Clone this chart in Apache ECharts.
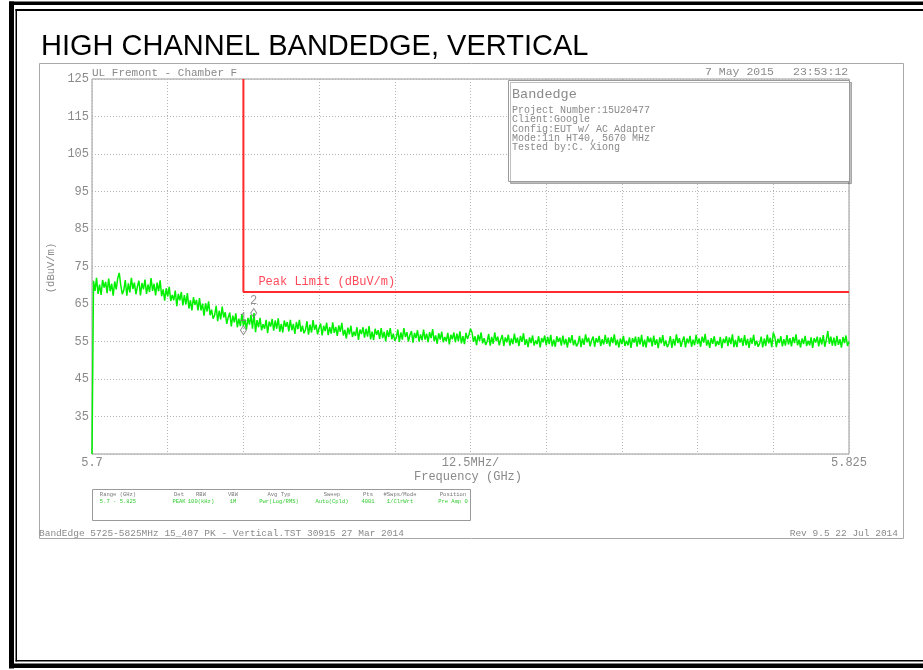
<!DOCTYPE html>
<html>
<head>
<meta charset="utf-8">
<title>HIGH CHANNEL BANDEDGE, VERTICAL</title>
<script src="https://cdn.jsdelivr.net/npm/echarts@6/dist/echarts.min.js"></script>
<style>
html, body { margin: 0; padding: 0; background: #fff; }
#chart { width: 923px; height: 670px; }
</style>
</head>
<body>
<div id="chart"></div>
<script>
// sweep: 5.7 - 5.825 GHz, one trace sample every 0.25 MHz
var F_START = 5.7;
var F_STOP = 5.825;
var F_STEP = 0.00025;
var LEVEL_MIN = 25;
var LEVEL_MAX = 125;

// trace level (dBuV/m)
var TRACE = [
	25.0,
	71.2, 68.5, 72.0, 67.7, 70.2, 67.4, 71.4, 69.4, 70.9, 67.9, 71.8, 68.4, 70.4, 67.2, 71.0, 68.9, 71.9, 73.3, 70.0, 67.6,
	68.7, 71.4, 67.2, 70.5, 68.1, 72.0, 69.0, 70.7, 67.6, 69.7, 71.2, 67.3, 70.6, 68.9, 71.5, 67.7, 70.2, 68.2, 71.9, 68.5,
	70.4, 67.3, 70.7, 68.4, 71.3, 67.1, 68.9, 65.9, 69.2, 67.0, 69.6, 65.8, 67.4, 66.0, 68.6, 64.4, 67.7, 66.0, 68.2, 64.6,
	67.4, 64.9, 67.9, 63.8, 66.0, 63.3, 66.8, 64.8, 66.1, 63.3, 66.6, 63.3, 65.1, 61.9, 65.2, 63.0, 65.7, 62.0, 63.5, 61.1,
	62.0, 64.5, 60.4, 63.2, 60.9, 64.3, 61.4, 62.8, 59.7, 61.5, 62.7, 59.0, 61.9, 60.1, 62.5, 58.8, 61.1, 59.1, 62.3, 59.1,
	60.9, 58.2, 61.3, 59.5, 62.1, 58.4, 62.6, 57.5, 60.7, 58.8, 61.3, 58.0, 59.6, 58.4, 60.8, 57.2, 60.3, 59.0, 61.0, 57.9,
	60.6, 58.4, 61.2, 57.6, 59.7, 57.4, 60.6, 58.9, 60.2, 57.7, 60.8, 58.0, 59.7, 57.0, 60.2, 58.3, 60.8, 57.6, 59.2, 57.2,
	58.1, 60.4, 56.8, 59.5, 57.4, 60.7, 58.1, 59.5, 56.9, 58.6, 59.8, 56.6, 59.2, 57.8, 60.0, 56.7, 58.8, 57.1, 60.1, 57.3,
	58.9, 56.5, 59.3, 57.6, 60.0, 56.6, 58.1, 55.8, 58.7, 56.9, 59.2, 56.2, 57.6, 56.5, 58.8, 55.4, 58.2, 57.0, 58.8, 56.0,
	58.4, 56.3, 59.1, 55.6, 57.6, 55.4, 58.4, 56.8, 58.0, 55.7, 58.6, 55.9, 57.6, 55.0, 58.0, 56.2, 58.6, 55.6, 57.1, 55.2,
	56.0, 58.2, 54.9, 57.4, 55.5, 58.6, 56.2, 57.5, 55.0, 56.7, 57.8, 54.7, 57.3, 55.9, 58.0, 55.0, 56.9, 55.3, 58.2, 55.5,
	57.1, 54.8, 57.5, 55.9, 58.3, 55.1, 56.6, 54.4, 57.2, 55.5, 57.6, 54.8, 56.2, 55.1, 57.3, 54.2, 56.8, 55.6, 57.4, 54.8,
	57.1, 55.1, 57.7, 54.5, 56.4, 54.3, 57.3, 55.7, 56.8, 58.4, 57.4, 54.9, 56.4, 54.0, 56.8, 55.2, 57.4, 54.5, 55.9, 54.1,
	55.0, 57.0, 53.9, 56.2, 54.4, 57.4, 55.1, 56.3, 54.0, 55.6, 56.7, 53.8, 56.1, 54.8, 56.8, 53.9, 55.8, 54.3, 57.1, 54.6,
	56.0, 53.8, 56.5, 54.9, 57.2, 54.1, 55.6, 53.5, 56.1, 54.6, 56.6, 53.9, 55.3, 54.3, 56.4, 53.4, 55.9, 54.8, 56.6, 54.0,
	56.2, 54.3, 56.8, 53.7, 55.5, 53.6, 56.4, 54.9, 56.0, 53.9, 56.6, 54.2, 55.7, 53.4, 56.1, 54.6, 56.7, 54.0, 55.4, 53.7,
	54.5, 56.5, 53.5, 55.8, 54.1, 56.9, 54.8, 56.0, 53.7, 55.3, 56.3, 53.6, 55.9, 54.7, 56.5, 53.8, 55.6, 54.2, 56.8, 54.4,
	56.0, 53.7, 56.2, 54.6, 56.9, 54.0, 55.5, 53.4, 55.8, 54.3, 56.5, 53.8, 55.2, 54.0, 56.1, 53.3, 55.9, 54.7, 56.3, 53.6,
	56.2, 54.2, 56.8, 53.6, 55.5, 53.4, 56.4, 54.8, 56.0, 53.7, 56.6, 54.1, 55.6, 53.2, 56.1, 54.5, 56.7, 53.8, 55.3, 53.5,
	54.4, 56.4, 53.3, 55.7, 53.9, 56.9, 54.6, 55.9, 53.6, 55.2, 56.3, 53.4, 55.8, 54.5, 56.5, 53.6, 55.5, 54.0, 56.8, 54.3,
	55.8, 53.6, 56.3, 54.7, 57.0, 53.9, 55.4, 53.3, 55.9, 54.4, 56.4, 53.7, 55.1, 54.1, 56.2, 53.2, 55.7, 54.6, 56.4, 53.8,
	56.1, 54.3, 56.9, 53.5, 55.4, 53.5, 56.5, 54.7, 55.9, 53.8, 56.7, 54.0, 55.7, 53.3, 56.0, 54.4, 56.8, 53.9, 55.2, 53.6,
	54.5, 56.3, 53.4, 55.8, 53.8, 56.8, 54.5, 56.0, 53.5, 57.4, 56.2, 53.5, 55.7, 54.6, 56.4, 53.7, 55.6, 53.9, 56.7, 54.2,
	55.9, 53.7, 56.2, 54.6, 56.9, 54.0, 55.5, 53.4, 55.8, 54.3, 56.5, 53.8, 55.2, 54.0, 56.1, 53.3, 55.9, 54.7, 56.3, 53.7,
	56.1, 54.2, 56.7, 53.6, 55.4, 57.8, 54.4, 56.3, 53.9, 56.0, 53.8, 56.5, 54.1, 55.6, 53.4, 56.2, 54.6, 56.6, 53.8, 55.0
];

// peak limit mask [GHz, dBuV/m]
var LIMIT = [[5.725, 125], [5.725, 68.2], [5.825, 68.2]];
var LIMIT_NAME = 'Peak Limit (dBuV/m)';

// markers [label, GHz, dBuV/m]
var MARKERS = [['1', 5.725, 58.0], ['2', 5.7267, 62.6]];

// 10 divisions each way
var Y_LABELS = ['', '35', '45', '55', '65', '75', '85', '95', '105', '115', '125'];
var X_LABELS = ['5.7', '', '', '', '', '12.5MHz/', '', '', '', '', '5.825'];

var INFO_TITLE = 'Bandedge';
var INFO_LINES = [
	'Project Number:15U20477',
	'Client:Google',
	'Config:EUT w/ AC Adapter',
	'Mode:11n HT40, 5670 MHz',
	'Tested by:C. Xiong'
];

var TABLE_HEAD = ['Range (GHz)', 'Det', 'RBW', 'VBW', 'Avg Typ', 'Sweep', 'Pts', '#Swps/Mode', 'Position'];
var TABLE_VALS = ['5.7 - 5.825', 'PEAK', '100(kHz)', '1M', 'Pwr(Log/RMS)', 'Auto(Cpld)', '4001', '1/ClrWrt', 'Pre Amp 0'];
var TABLE_X = [118, 179, 201, 233, 279, 332, 368, 400, 453];

var MONO = 'Liberation Mono, DejaVu Sans Mono, monospace';
var GREY = '#8a8a8a';

var chart = echarts.init(document.getElementById('chart'));

var traceData = TRACE.map(function (v, i) {
	return [F_START + i * F_STEP, v];
});

function txt(x, y, s, size, color, align, extra) {
	var el = {
		type: 'text', x: x, y: y, z: 110,
		style: {
			text: s, fill: color || GREY, fontSize: size, fontFamily: MONO,
			align: align || 'left', verticalAlign: 'middle'
		}
	};
	if (extra) for (var k in extra) el[k] = extra[k];
	return el;
}

var gfx = [];
// outer double frame
gfx.push({ type: 'rect', shape: { x: 9, y: 1.5, width: 914, height: 3.5 }, style: { fill: '#000' } });
gfx.push({ type: 'rect', shape: { x: 9, y: 1.5, width: 5, height: 667 }, style: { fill: '#000' } });
gfx.push({ type: 'rect', shape: { x: 9, y: 663.5, width: 914, height: 4.5 }, style: { fill: '#000' } });
gfx.push({ type: 'rect', shape: { x: 15.5, y: 9, width: 908, height: 2 }, style: { fill: '#000' } });
gfx.push({ type: 'rect', shape: { x: 15.5, y: 9, width: 1.5, height: 652.5 }, style: { fill: '#000' } });
gfx.push({ type: 'rect', shape: { x: 15.5, y: 660, width: 908, height: 1.5 }, style: { fill: '#000' } });

gfx.push({
	type: 'text', x: 41, y: 47,
	style: { text: 'HIGH CHANNEL BANDEDGE, VERTICAL', fill: '#000', fontSize: 29,
		fontFamily: 'Liberation Sans, Arial, sans-serif', verticalAlign: 'middle' }
});

// plotter page border
gfx.push({ type: 'rect', shape: { x: 39.5, y: 63.5, width: 864, height: 475 },
	style: { fill: null, stroke: '#a8a8a8', lineWidth: 1 } });

gfx.push(txt(92, 73, 'UL Fremont - Chamber F', 11));
gfx.push(txt(705, 72, '7 May 2015', 11.5));
gfx.push(txt(793, 72, '23:53:12', 11.5));

// info box
gfx.push({ type: 'rect', z: 105, shape: { x: 508.5, y: 80.5, width: 341, height: 101 },
	style: { fill: '#fff', stroke: '#9a9a9a', lineWidth: 1,
		shadowColor: 'rgba(0,0,0,0.25)', shadowOffsetX: 2, shadowOffsetY: 2 } });
gfx.push(txt(512, 94, INFO_TITLE, 13.5));
INFO_LINES.forEach(function (s, i) {
	gfx.push(txt(512, 110.5 + i * 9.2, s, 10));
});

gfx.push(txt(51, 268, '(dBuV/m)', 10.5, GREY, 'center', { rotation: Math.PI / 2 }));
gfx.push(txt(468, 477, 'Frequency (GHz)', 12, GREY, 'center'));

// settings table
gfx.push({ type: 'rect', shape: { x: 92.5, y: 489.5, width: 378, height: 31 },
	style: { fill: null, stroke: '#9a9a9a', lineWidth: 1 } });
TABLE_HEAD.forEach(function (s, i) {
	gfx.push(txt(TABLE_X[i], 495, s, 5.5, '#777', 'center'));
	gfx.push(txt(TABLE_X[i], 502, TABLE_VALS[i], 5.5, '#33cc33', 'center'));
});

gfx.push(txt(39, 533, 'BandEdge 5725-5825MHz 15_407 PK - Vertical.TST 30915 27 Mar 2014', 9.5));
gfx.push(txt(898, 533, 'Rev 9.5 22 Jul 2014', 9.5, GREY, 'right'));

var option = {
	backgroundColor: '#fff',
	animation: false,
	grid: { left: 92, top: 79, width: 757, height: 375, show: true, borderColor: '#999', borderWidth: 1 },
	xAxis: [
		{
			type: 'value', min: 0, max: 10, interval: 1,
			axisLine: { show: false }, axisTick: { show: false },
			axisLabel: {
				interval: 0, showMinLabel: true, showMaxLabel: true,
				color: GREY, fontFamily: MONO, fontSize: 12, margin: 3,
				formatter: function (v) { return X_LABELS[Math.round(v)] || ''; }
			},
			splitLine: { show: true, lineStyle: { color: '#b5b5b5', type: [1, 2], width: 1 } }
		},
		{ type: 'value', min: F_START, max: F_STOP, show: false }
	],
	yAxis: [
		{
			type: 'value', min: 0, max: 10, interval: 1,
			axisLine: { show: false }, axisTick: { show: false },
			axisLabel: {
				color: GREY, fontFamily: MONO, fontSize: 12, margin: 3,
				showMinLabel: true, showMaxLabel: true,
				formatter: function (v) { return Y_LABELS[Math.round(v)] || ''; }
			},
			splitLine: { show: true, lineStyle: { color: '#b5b5b5', type: [1, 2], width: 1 } }
		},
		{ type: 'value', min: LEVEL_MIN, max: LEVEL_MAX, show: false }
	],
	series: [
		{
			name: 'trace', type: 'line', xAxisIndex: 1, yAxisIndex: 1,
			data: traceData, showSymbol: false, symbol: 'none',
			lineStyle: { color: '#00f000', width: 1.5 }, z: 3
		},
		{
			name: 'limit', type: 'line', xAxisIndex: 1, yAxisIndex: 1,
			data: LIMIT, showSymbol: false, symbol: 'none',
			lineStyle: { color: '#ff2a2a', width: 2 }, z: 4
		},
		{
			name: 'markers', type: 'scatter', xAxisIndex: 1, yAxisIndex: 1,
			data: MARKERS.map(function (m) { return { name: m[0], value: [m[1], m[2]] }; }),
			symbol: 'diamond', symbolSize: [6, 9],
			itemStyle: { color: 'rgba(255,255,255,0)', borderColor: '#777', borderWidth: 1 },
			label: { show: true, position: 'top', distance: 1, color: '#777', fontFamily: MONO, fontSize: 12,
				formatter: function (p) { return p.name; } },
			z: 5
		}
	],
	graphic: { elements: gfx }
};

chart.setOption(option);

// limit label sits just above the limit corner
var corner = chart.convertToPixel({ xAxisIndex: 1, yAxisIndex: 1 }, LIMIT[1]);
gfx.push(txt(corner[0] + 15, corner[1] - 10, LIMIT_NAME, 12, '#ff4a5a'));
chart.setOption(option, true);
</script>
</body>
</html>
